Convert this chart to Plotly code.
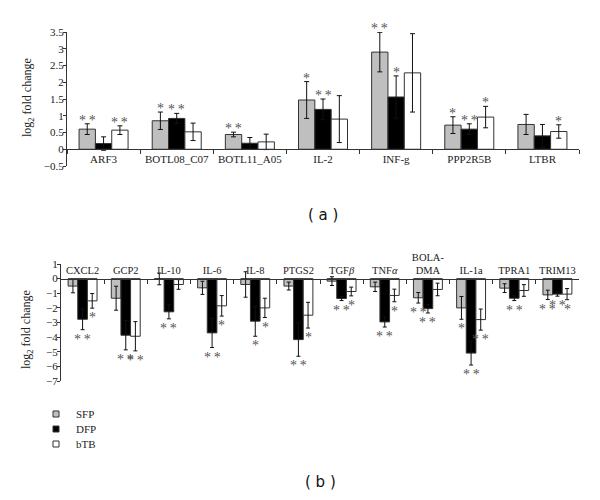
import plotly.graph_objects as go

# ---------------- data (a) ----------------
cats_a = ["ARF3", "BOTL08_C07", "BOTL11_A05", "IL-2", "INF-g", "PPP2R5B", "LTBR"]
sfp_a = [0.60, 0.85, 0.44, 1.47, 2.90, 0.72, 0.74]
sfp_a_err = [0.16, 0.26, 0.07, 0.55, 0.59, 0.25, 0.30]
dfp_a = [0.17, 0.92, 0.18, 1.19, 1.56, 0.60, 0.40]
dfp_a_err = [0.20, 0.15, 0.17, 0.31, 0.63, 0.16, 0.34]
btb_a = [0.57, 0.52, 0.22, 0.90, 2.28, 0.96, 0.53]
btb_a_err = [0.13, 0.26, 0.23, 0.70, 1.17, 0.32, 0.20]
sfp_a_sig = ["**", "*", "**", "*", "**", "*", ""]
dfp_a_sig = ["", "**", "", "**", "*", "**", ""]
btb_a_sig = ["**", "", "", "", "", "*", "*"]

# ---------------- data (b) ----------------
cats_b = ["CXCL2", "GCP2", "IL-10", "IL-6", "IL-8", "PTGS2", "TGF<i>β</i>",
          "TNF<i>α</i>", "BOLA-<br>DMA", "IL-1a", "TPRA1", "TRIM13"]
sfp_b = [-0.51, -1.34, -0.02, -0.63, -0.40, -0.51, -0.17, -0.56, -1.31, -2.00, -0.65, -1.11]
sfp_b_err = [0.46, 0.82, 0.40, 0.45, 0.87, 0.27, 0.30, 0.32, 0.36, 0.78, 0.30, 0.32]
dfp_b = [-2.78, -3.87, -2.27, -3.71, -2.91, -4.17, -1.36, -2.96, -2.05, -5.09, -1.34, -1.06]
dfp_b_err = [0.71, 1.00, 0.48, 1.00, 1.03, 1.14, 0.14, 0.35, 0.30, 0.82, 0.16, 0.14]
btb_b = [-1.52, -3.94, -0.40, -1.86, -2.00, -2.50, -0.88, -1.15, -0.74, -2.80, -0.81, -1.06]
btb_b_err = [0.50, 1.00, 0.33, 0.70, 0.66, 0.88, 0.30, 0.43, 0.43, 0.72, 0.40, 0.38]
sfp_b_sig = ["", "", "", "", "", "", "", "", "**", "*", "", "**"]
dfp_b_sig = ["**", "**", "**", "**", "*", "**", "**", "**", "**", "**", "**", "**"]
btb_b_sig = ["*", "**", "", "*", "*", "*", "*", "*", "", "**", "", "*"]

series_names = ["SFP", "DFP", "bTB"]
colors = ["#bfbfbf", "#000000", "#ffffff"]

SERIF = "Liberation Serif, Times New Roman, serif"
OFF = 8                               # default page body margin
W, H = 600 - 2 * OFF, 500 - 2 * OFF   # figure size so the page fits the window


def px(x):
    return (x - OFF) / W


def py(y):
    return 1 - (y - OFF) / H


# layout geometry (reference pixels)
xa0, xa1 = 67, 579
ya_top, ya_bot = 32, 166
xb0, xb1 = 61, 579
yb_top, yb_bot = 264, 381
ra = [-0.5, 3.5]
rb = [-7, 1]
gap_a, gap_b = 0.33, 0.32

dom_xa = [px(xa0), px(xa1)]
dom_ya = [py(ya_bot), py(ya_top)]
dom_xb = [px(xb0), px(xb1)]
dom_yb = [py(yb_bot), py(yb_top)]
pos_a = dom_ya[0] + (0 - ra[0]) / (ra[1] - ra[0]) * (dom_ya[1] - dom_ya[0])
pos_b = dom_yb[0] + (0 - rb[0]) / (rb[1] - rb[0]) * (dom_yb[1] - dom_yb[0])

fig = go.Figure()

data_a = [(sfp_a, sfp_a_err, sfp_a_sig), (dfp_a, dfp_a_err, dfp_a_sig), (btb_a, btb_a_err, btb_a_sig)]
data_b = [(sfp_b, sfp_b_err, sfp_b_sig), (dfp_b, dfp_b_err, dfp_b_sig), (btb_b, btb_b_err, btb_b_sig)]

for i, (vals, errs, _) in enumerate(data_a):
    fig.add_trace(go.Bar(
        x=cats_a, y=vals, name=series_names[i], showlegend=False, cliponaxis=False,
        marker=dict(color=colors[i], line=dict(color="#333", width=1)),
        error_y=dict(type="data", array=errs, visible=True, color="#111", thickness=1, width=2.5),
        xaxis="x", yaxis="y", offsetgroup=str(i),
    ))
for i, (vals, errs, _) in enumerate(data_b):
    fig.add_trace(go.Bar(
        x=cats_b, y=vals, name=series_names[i], showlegend=False, cliponaxis=False,
        marker=dict(color=colors[i], line=dict(color="#333", width=1)),
        error_y=dict(type="data", array=errs, visible=True, color="#111", thickness=1, width=2),
        xaxis="x2", yaxis="y2", offsetgroup=str(i),
    ))

# legend entries (one small legend per entry for tight spacing)
legend_rows = [414, 429, 444]
legend_names = ["legend", "legend2", "legend3"]
for i in range(3):
    fig.add_trace(go.Scatter(
        x=[None], y=[None], mode="markers", name=series_names[i],
        marker=dict(symbol="square", size=6, color=colors[i], line=dict(color="#333", width=1)),
        xaxis="x", yaxis="y", legend=legend_names[i],
    ))

# significance stars
bar_w_a = (xa1 - xa0) / len(cats_a) * (1 - gap_a) / 3
bar_w_b = (xb1 - xb0) / len(cats_b) * (1 - gap_b) / 3
annotations = []
star_font = dict(family=SERIF, size=14, color="#555")
for i, (vals, errs, sig) in enumerate(data_a):
    for c, v, e, s in zip(cats_a, vals, errs, sig):
        if s:
            annotations.append(dict(
                x=c, y=v + e, xref="x", yref="y", text=s.replace("**", "*\u2009*"),
                showarrow=False, yanchor="bottom", xanchor="center",
                xshift=(i - 1) * bar_w_a, yshift=-6, font=star_font))
for i, (vals, errs, sig) in enumerate(data_b):
    for c, v, e, s in zip(cats_b, vals, errs, sig):
        if s:
            annotations.append(dict(
                x=c, y=v - e, xref="x2", yref="y2", text=s.replace("**", "*\u2009*"),
                showarrow=False, yanchor="top", xanchor="center",
                xshift=(i - 1) * bar_w_b, yshift=0, font=star_font))

panel_font = dict(family="DejaVu Sans, sans-serif", size=15, color="#111")
annotations.append(dict(text="( a )", x=px((xa0 + xa1) / 2), y=py(215), xref="paper", yref="paper",
                        xanchor="center", yanchor="middle", showarrow=False, font=panel_font))
annotations.append(dict(text="( b )", x=px((xb0 + xb1) / 2), y=py(482), xref="paper", yref="paper",
                        xanchor="center", yanchor="middle", showarrow=False, font=panel_font))
title_font = dict(family=SERIF, size=12, color="#222")
annotations.append(dict(text="log<sub>2</sub> fold change", textangle=-90, x=px(28), y=py(98),
                        xanchor="center", yanchor="middle",
                        xref="paper", yref="paper", showarrow=False, font=title_font))
annotations.append(dict(text="log<sub>2</sub> fold change", textangle=-90, x=px(27), y=py(330),
                        xanchor="center", yanchor="middle",
                        xref="paper", yref="paper", showarrow=False, font=title_font))

tickfont = dict(family=SERIF, size=11, color="#222")
legend_common = dict(xanchor="left", yanchor="middle", font=dict(family=SERIF, size=11, color="#222"),
                     bgcolor="rgba(0,0,0,0)", borderwidth=0)
fig.update_layout(
    width=W, height=H, margin=dict(l=0, r=0, t=0, b=0),
    paper_bgcolor="white", plot_bgcolor="white",
    barmode="group", bargap=gap_a, bargroupgap=0,
    font=dict(family=SERIF, color="#222"),
    showlegend=True,
    legend=dict(x=px(36), y=py(legend_rows[0]), **legend_common),
    legend2=dict(x=px(36), y=py(legend_rows[1]), **legend_common),
    legend3=dict(x=px(36), y=py(legend_rows[2]), **legend_common),
    annotations=annotations,
    xaxis=dict(domain=dom_xa, anchor="free", position=pos_a, type="category",
               showline=True, linecolor="#333", linewidth=1, ticks="outside", ticklen=4,
               tickcolor="#333", tickson="boundaries", showgrid=False, tickfont=tickfont,
               tickangle=0, automargin=False),
    yaxis=dict(domain=dom_ya, anchor="x", range=ra, dtick=0.5, showline=True, linecolor="#333",
               linewidth=1, ticks="outside", ticklen=3, tickcolor="#333", showgrid=False,
               zeroline=False, tickfont=tickfont, automargin=False, ticklabelstandoff=-3),
    xaxis2=dict(domain=dom_xb, anchor="free", position=pos_b, side="top", type="category",
                showline=True, linecolor="#333", linewidth=1, ticks="inside", ticklen=4,
                tickcolor="#333", tickson="boundaries", showgrid=False,
                tickfont=dict(family=SERIF, size=10.5, color="#222"),
                tickangle=0, automargin=False),
    yaxis2=dict(domain=dom_yb, anchor="x2", range=rb, dtick=1, showline=True, linecolor="#333",
                linewidth=1, ticks="outside", ticklen=3, tickcolor="#333", showgrid=False,
                zeroline=False, tickfont=tickfont, automargin=False, ticklabelstandoff=-3),
)

fig.write_html("out.html")
